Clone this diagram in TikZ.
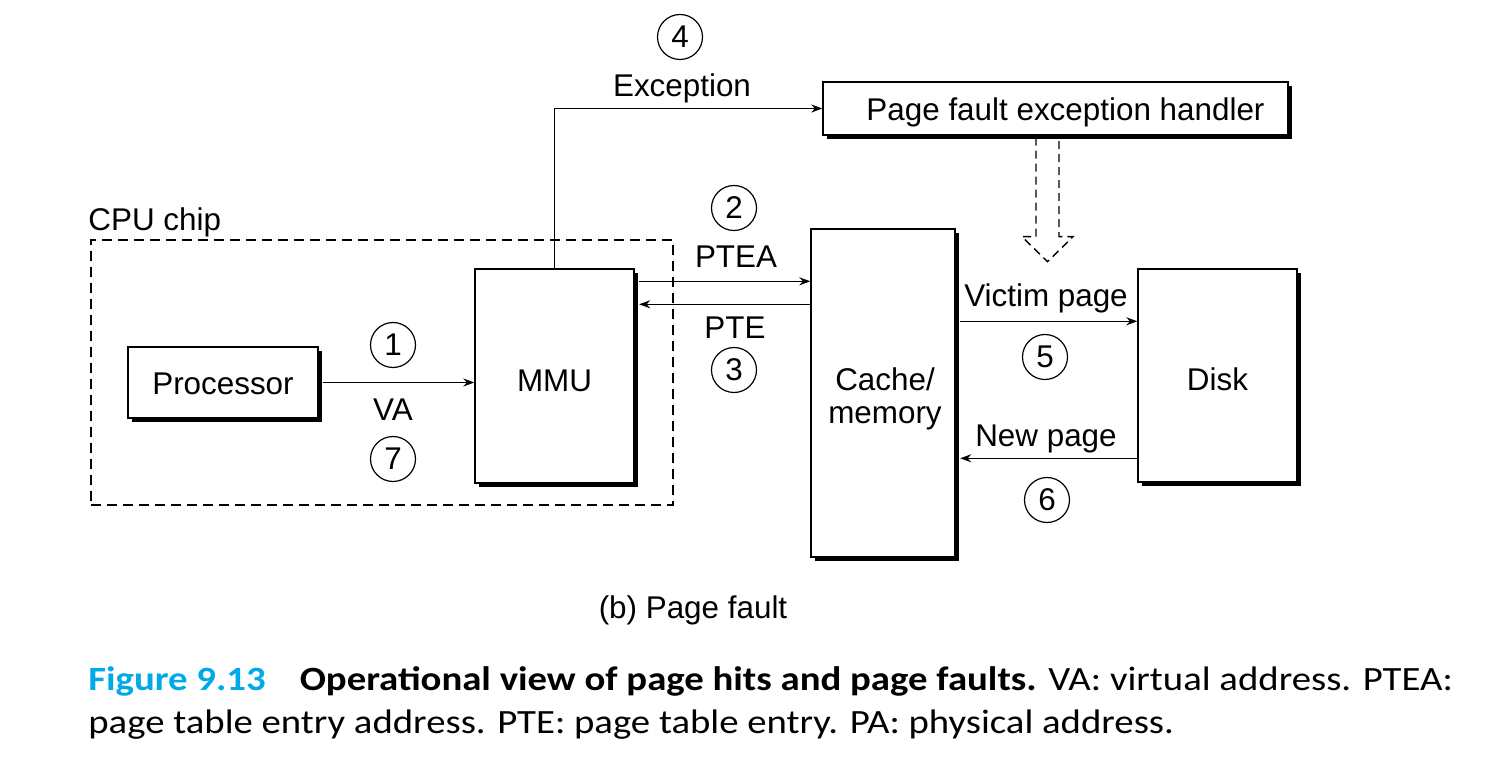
\documentclass[tikz,border=0pt]{standalone}
\usepackage{fontspec}
\setmainfont{Liberation Sans}
\newfontfamily\capfont[FakeStretch=1.14]{Carlito}
\usetikzlibrary{arrows.meta,shadows,calc}
\definecolor{figblue}{RGB}{0,170,230}
\begin{document}
\begin{tikzpicture}[x=0.5pt,y=-0.5pt,
  every node/.style={font=\fontsize{15.7}{16}\selectfont},
  box/.style={draw, line width=0.7pt, fill=white, inner sep=0pt,
    drop shadow={shadow xshift=2.2pt, shadow yshift=-2.2pt, fill=black, opacity=1}},
  conn/.style={line width=0.6pt, -{Stealth[length=5.5pt,width=4pt]}},
  num/.style={draw, circle, line width=0.6pt, minimum size=22.5pt, inner sep=0pt},
  lbl/.style={anchor=base, inner sep=0pt},
  chip/.style={draw, line width=0.6pt, dash pattern=on 5pt off 3pt, inner sep=0pt},
  hollow/.style={draw, line width=0.7pt, dash pattern=on 4pt off 2.5pt}]
\useasboundingbox (0,0) rectangle (1511,775);

% CPU chip
\node[chip, minimum width=291pt, minimum height=132.5pt] (cpu) at (382,372.5) {};
\node[lbl, anchor=base west] (cpulbl) at (88,231) {CPU chip};

% boxes
\node[box, minimum width=95pt, minimum height=35.5pt] (proc) at (223,382.5) {};
\node[lbl] (proctxt) at (223,394) {Processor};
\node[box, minimum width=79.5pt, minimum height=107pt] (mmu) at (554.5,376) {};
\node[lbl] (mmutxt) at (554.5,392) {MMU};
\node[box, minimum width=72pt, minimum height=164pt] (cache) at (883,393) {};
\node[lbl] (cachetxt1) at (885,391) {Cache/};
\node[lbl] (cachetxt2) at (885,423) {memory};
\node[box, minimum width=79.5pt, minimum height=106.5pt] (disk) at (1217.5,375.5) {};
\node[lbl] (disktxt) at (1217.5,391) {Disk};
\node[box, minimum width=232.5pt, minimum height=26.5pt] (handler) at (1055.5,108.5) {};
\node[lbl] (handlertxt) at (1065.5,121) {Page fault exception handler};

% VA
\draw[conn] ([xshift=2.2pt]proc.east) -- (proc.east -| mmu.west);
\node[num] (n1) at (393,345) {1};
\node[lbl] (va) at (393,421) {VA};
\node[num] (n7) at (393,459) {7};

% Exception
\draw[conn] (mmu.north) |- (handler.west);
\node[lbl] (exc) at (682,97) {Exception};
\node[num] (n4) at (680,37) {4};

% PTEA / PTE
\path (mmu.north east) ++(4.5,13) coordinate (a1);
\path (mmu.north east) ++(4.5,36) coordinate (a2);
\draw[conn] (a1) -- (a1 -| cache.west);
\draw[conn] (a2 -| cache.west) -- (a2);
\node[lbl] (ptea) at (736,268) {PTEA};
\node[num] (n2) at (734,208) {2};
\node[lbl] (pte) at (735,339) {PTE};
\node[num] (n3) at (734,370) {3};

% Victim / New page
\path (cache.north east) ++(4.5,93) coordinate (a3);
\path (cache.north east) ++(4.5,230) coordinate (a4);
\draw[conn] (a3) -- (a3 -| disk.west);
\draw[conn] (a4 -| disk.west) -- (a4);
\node[lbl] (victim) at (1046,307) {Victim page};
\node[num] (n5) at (1045,357) {5};
\node[lbl] (newp) at (1046,446) {New page};
\node[num] (n6) at (1047,500) {6};

% hollow dashed arrow
\path (handler.south) ++(-8,0) coordinate (h0);
\draw[hollow] ($(h0)+(-11.5,2)$) -- ++(0,99) -- ++(-14,0) -- ++(25.5,25) -- ++(25.5,-25) -- ++(-14,0) -- ++(0,-99);

% subcaption
\node[lbl] (sub) at (693,618) {(b) Page fault};

% caption
\node[anchor=base west, inner sep=0pt, font=\capfont\fontsize{17}{20}\selectfont] (cap1) at (88,690)
  {\textcolor{figblue}{\textbf{Figure 9.13}}\quad\textbf{Operational view of page hits and page faults.} VA: virtual address. PTEA:};
\node[anchor=base west, inner sep=0pt, font=\capfont\fontsize{17}{20}\selectfont] (cap2) at (88,733)
  {page table entry address. PTE: page table entry. PA: physical address.};
\end{tikzpicture}
\end{document}
